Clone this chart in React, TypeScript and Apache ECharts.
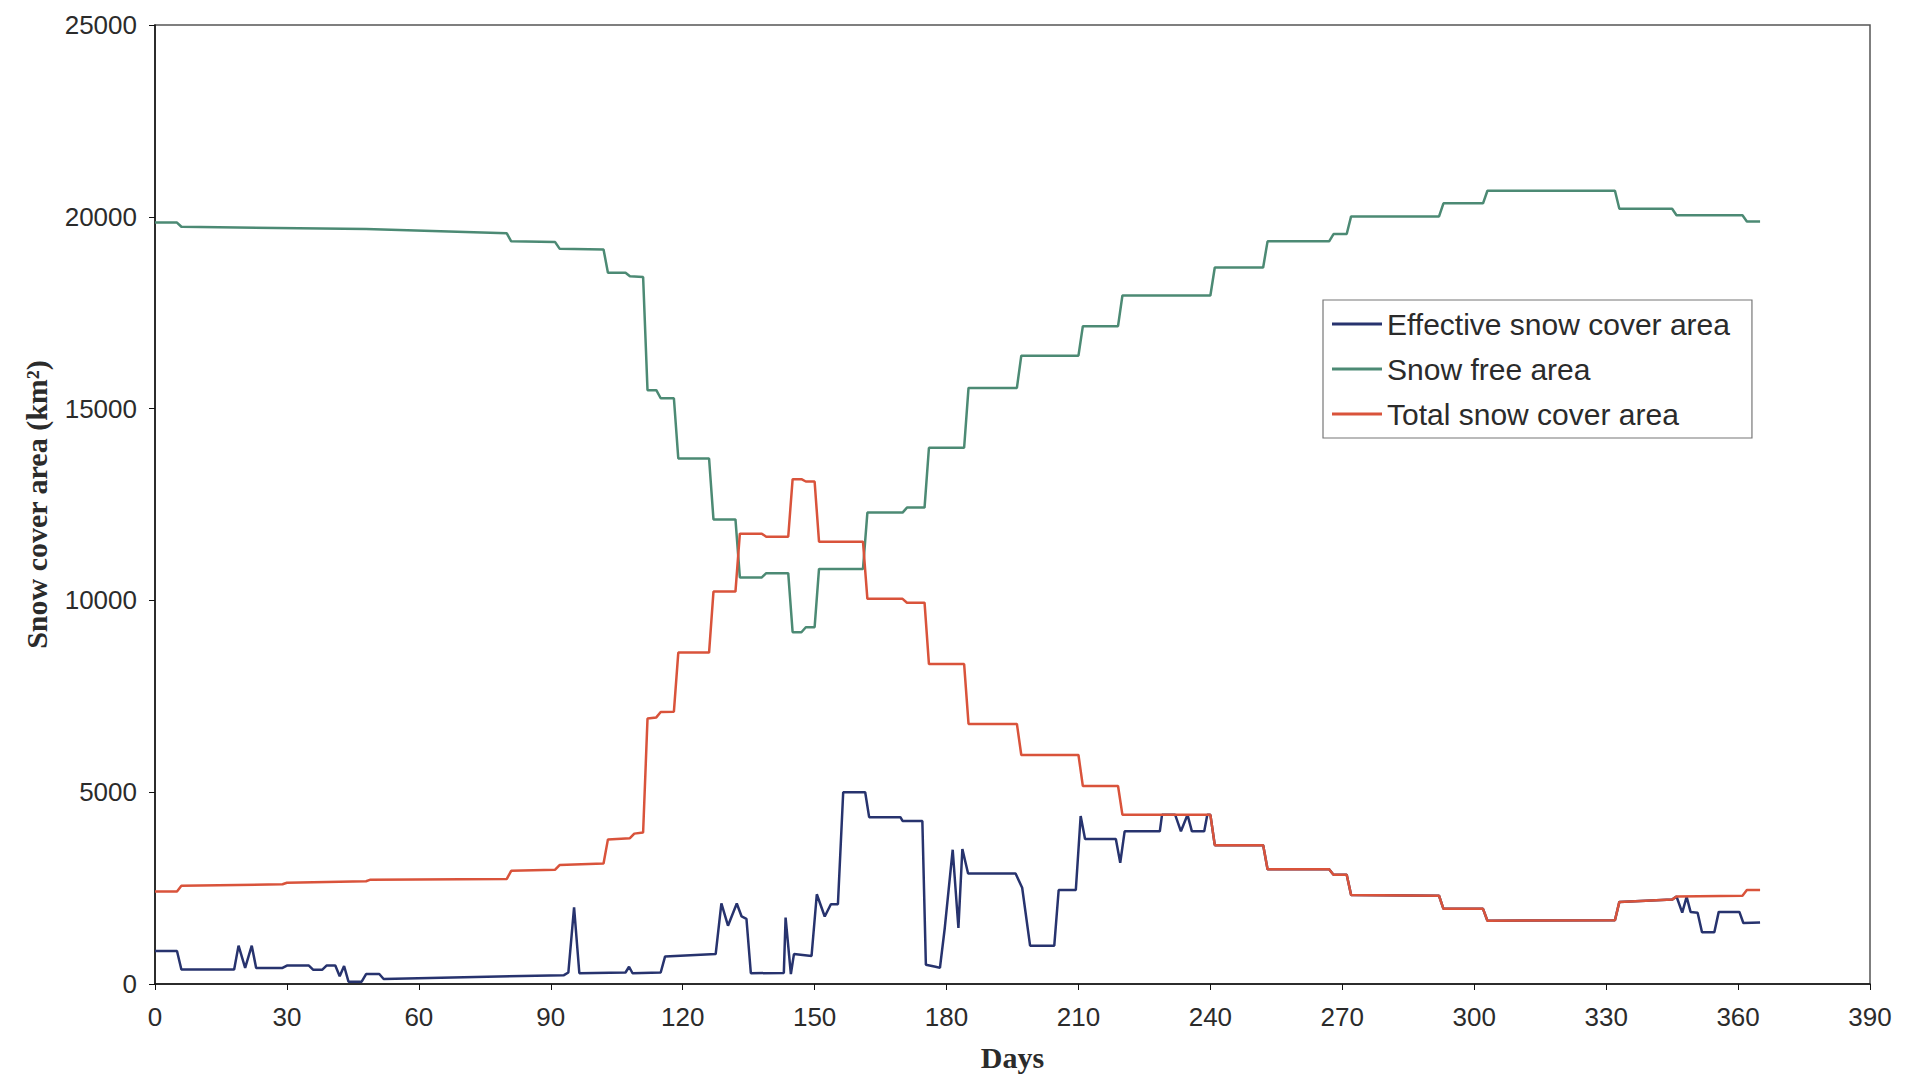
import React, { useEffect, useRef } from "react";
import * as echarts from "echarts";

// Effective snow cover area (km²)
const effectiveDays = [0,5,6,18,19,20.5,22,23,29,30,35,36,38,39,41,42,43,44,47,48,51,52,93,94,95.3,96.5,107,107.8,108.6,115,116,127.5,128.8,130.3,132.3,133.4,134.5,135.5,143,143.4,144.6,145.3,149.3,150.5,152.3,153.7,155.3,156.5,161.5,162.4,169.5,170,174.5,175.3,177.5,178.5,179.6,181.4,182.7,183.6,184.9,195.7,197.2,199,204.5,205.5,209.4,210.5,211.5,218.5,219.5,220.5,228.5,229,232,233.3,234.8,235.8,238.6,239.3,240,241,252,253,267,268,271,272,292,293,302,303,332,333,345,346,347.3,348.3,349.2,350.8,351.8,354.6,355.6,360.3,361.2,365];
const effectiveValues = [860,860,380,380,1000,420,1000,420,420,480,480,370,370,480,480,200,470,60,60,260,260,130,230,300,2000,280,300,450,280,300,720,780,2100,1520,2100,1760,1700,280,290,1730,260,780,730,2340,1760,2080,2080,5000,5000,4350,4350,4250,4250,500,450,420,1460,3500,1460,3520,2880,2880,2510,1000,1000,2450,2450,4380,3780,3780,3160,3980,3980,4410,4410,3980,4410,3980,3980,4410,4410,3620,3620,2990,2990,2850,2850,2320,2300,1960,1960,1650,1660,2140,2200,2280,1860,2270,1880,1860,1350,1350,1880,1880,1590,1600];

// Snow free area (km²)
const freeDays = [0,5,6,48,80,81,91,92,102,103,107,108,111,112,114,115,118,119,126,127,132,133,138,139,144,145,147,148,150,151,161,162,170,171,175,176,184,185,196,197,210,211,219,220,240,241,252,253,267,268,271,272,292,293,302,303,332,333,345,346,361,362,365];
const freeValues = [19850,19850,19740,19680,19570,19360,19340,19170,19150,18540,18540,18450,18430,15480,15480,15270,15270,13700,13700,12110,12110,10600,10600,10710,10710,9170,9170,9300,9300,10820,10820,12290,12290,12420,12420,13980,13980,15540,15540,16380,16380,17150,17150,17950,17950,18680,18680,19360,19360,19550,19550,20010,20010,20350,20350,20680,20680,20210,20210,20040,20040,19880,19880];

// Total snow cover area (km²)
const totalDays = [0,5,6,29,30,48,49,80,81,91,92,102,103,108,109,111,112,114,115,118,119,126,127,132,133,138,139,144,145,147,148,150,151,161,162,170,171,175,176,184,185,196,197,210,211,219,220,240,241,252,253,267,268,271,272,292,293,302,303,332,333,345,346,361,362,365];
const totalValues = [2410,2410,2560,2600,2640,2680,2720,2740,2950,2980,3100,3140,3770,3800,3920,3950,6920,6950,7090,7100,8640,8640,10230,10230,11740,11740,11660,11660,13160,13160,13100,13100,11530,11530,10040,10040,9940,9940,8340,8340,6780,6780,5970,5970,5160,5160,4410,4410,3620,3620,2990,2990,2850,2850,2320,2300,1960,1960,1650,1660,2140,2200,2280,2300,2450,2450];

const seriesNames = ["Effective snow cover area", "Snow free area", "Total snow cover area"];
const seriesColors = ["#27336e", "#4c8a74", "#d9533b"];

const pairs = (d: number[], v: number[]) => d.map((x, i) => [x, v[i]]);

export default function App() {
  const ref = useRef<HTMLDivElement>(null);
  useEffect(() => {
    if (!ref.current) return;
    const chart = echarts.init(ref.current, undefined, { renderer: "svg" });
    const labelFont = "'Liberation Sans', Arial, sans-serif";
    const titleFont = "'Liberation Serif', 'Times New Roman', serif";
    const datasets = [
      pairs(effectiveDays, effectiveValues),
      pairs(freeDays, freeValues),
      pairs(totalDays, totalValues),
    ];
    chart.setOption({
      animation: false,
      backgroundColor: "#ffffff",
      grid: {
        left: 155,
        right: 37,
        top: 25,
        bottom: 91,
        show: true,
        borderColor: "#555",
        borderWidth: 1.5,
        backgroundColor: "transparent",
      },
      legend: {
        orient: "vertical",
        left: 1323,
        top: 300,
        padding: [9, 22, 9, 9],
        itemGap: 15,
        itemWidth: 50,
        itemHeight: 3,
        icon: "rect",
        backgroundColor: "#fff",
        borderColor: "#777",
        borderWidth: 1.2,
        textStyle: { fontSize: 30, color: "#2b2b2b", fontFamily: labelFont },
        data: seriesNames,
      },
      xAxis: {
        type: "value",
        min: 0,
        max: 390,
        interval: 30,
        name: "Days",
        nameLocation: "middle",
        nameGap: 58,
        nameTextStyle: { fontFamily: titleFont, fontWeight: "bold", fontSize: 30, color: "#2b2b2b" },
        axisLine: { show: true, onZero: false, lineStyle: { color: "#111", width: 1.5 } },
        axisTick: { show: true, length: 6, lineStyle: { color: "#111", width: 1 } },
        axisLabel: { fontSize: 26, color: "#2b2b2b", margin: 20, fontFamily: labelFont, formatter: (v: number) => String(v) },
        splitLine: { show: false },
      },
      yAxis: {
        type: "value",
        min: 0,
        max: 25000,
        interval: 5000,
        name: "Snow cover area (km²)",
        nameLocation: "middle",
        nameGap: 104,
        nameRotate: 90,
        nameTextStyle: { fontFamily: titleFont, fontWeight: "bold", fontSize: 30, color: "#2b2b2b" },
        axisLine: { show: true, lineStyle: { color: "#111", width: 1.5 } },
        axisTick: { show: true, length: 6, lineStyle: { color: "#111", width: 1 } },
        axisLabel: { fontSize: 26, color: "#2b2b2b", margin: 18, fontFamily: labelFont, formatter: (v: number) => String(v) },
        splitLine: { show: false },
      },
      series: seriesNames.map((name, i) => ({
        name,
        type: "line",
        data: datasets[i],
        showSymbol: false,
        symbol: "none",
        color: seriesColors[i],
        lineStyle: { color: seriesColors[i], width: 2.5 },
        emphasis: { disabled: true },
      })),
    });
    return () => chart.dispose();
  }, []);
  return (
    <div
      ref={ref}
      style={{ position: "fixed", left: 0, top: 0, width: 1907, height: 1077, background: "#fff" }}
    />
  );
}
